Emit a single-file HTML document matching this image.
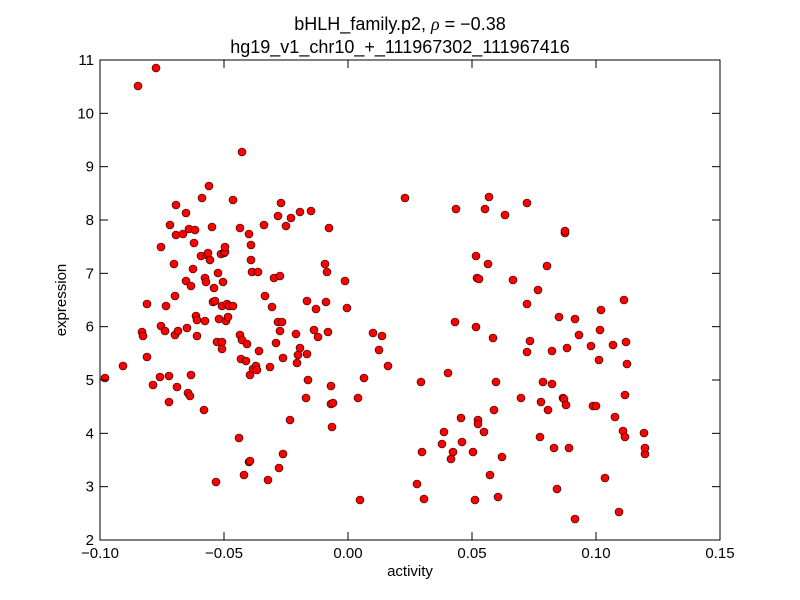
<!DOCTYPE html>
<html><head><style>body{margin:0;background:#fff}svg{display:block}text{font-family:"Liberation Sans","DejaVu Sans",sans-serif;fill:#000}</style></head>
<body>
<svg width="800" height="600" xmlns="http://www.w3.org/2000/svg">
<rect width="800" height="600" fill="#fff"/>
<text x="400" y="30" font-size="18" text-anchor="middle">bHLH_family.p2, <tspan font-family="Liberation Serif" font-style="italic">ρ</tspan> = −0.38</text>
<text x="400" y="53" font-size="18" text-anchor="middle">hg19_v1_chr10_+_111967302_111967416</text>
<g id="pts" fill="#f00" stroke="#000" stroke-width="0.6"></g>
<rect x="100" y="60" width="620" height="480" fill="none" stroke="#000" stroke-width="1"/>
<g id="ticks" stroke="#000" stroke-width="1"></g>
<g id="lbl" font-size="15"></g>
<text x="410" y="576" font-size="15" text-anchor="middle">activity</text>
<text x="66" y="300" font-size="15" text-anchor="middle" transform="rotate(-90 66 300)">expression</text>
<script>
var P=[[105,378],[123,366],[138,86],[156,68],[142,332],[143,336],[147,304],[147,357],[153,385],[160,377],[161,247],[161,326],[165,331],[166,306],[169,376],[169,402],[170,225],[174,264],[175,296],[175,335],[176,205],[176,235],[177,387],[178,331],[183,234],[186,213],[186,281],[187,328],[188,393],[189,229],[190,396],[191,286],[191,375],[193,269],[194,243],[195,230],[196,316],[197,320],[197,336],[201,256],[202,198],[204,410],[205,278],[205,321],[206,282],[207,255],[208,253],[209,186],[210,260],[212,227],[213,302],[214,288],[215,301],[216,482],[217,342],[218,273],[219,319],[221,254],[222,306],[222,342],[222,349],[223,282],[224,253],[225,252],[225,247],[226,321],[227,304],[228,317],[229,306],[233,200],[233,306],[239,438],[240,335],[240,228],[241,359],[242,152],[242,340],[244,475],[246,361],[247,344],[249,234],[249,462],[250,375],[250,461],[251,260],[251,245],[252,272],[253,369],[256,366],[257,370],[258,272],[259,351],[264,225],[265,296],[268,480],[270,367],[272,307],[274,278],[276,343],[278,216],[278,322],[279,468],[280,331],[280,276],[281,203],[282,322],[283,358],[283,454],[286,226],[290,420],[291,218],[296,334],[297,363],[298,355],[300,212],[300,348],[306,398],[307,354],[307,301],[308,380],[311,211],[314,330],[316,309],[318,337],[325,264],[326,302],[327,272],[328,332],[329,228],[331,386],[331,404],[332,427],[333,403],[345,281],[347,308],[358,398],[360,500],[364,378],[373,333],[379,350],[382,336],[388,366],
[405,198],[417,484],[421,382],[422,452],[424,499],[442,444],[444,432],[448,373],[451,459],[453,452],[455,322],[456,209],[461,418],[462,442],[473,452],[475,500],[476,256],[476,327],[477,278],[478,420],[478,424],[479,279],[484,432],[485,209],[488,264],[489,197],[490,475],[493,338],[494,410],[496,382],[498,497],[502,457],[505,215],[513,280],[521,398],[527,203],[527,352],[527,304],[530,341],[538,290],[540,437],[541,402],[543,382],[547,266],[548,410],[552,384],[552,351],[554,448],[557,489],[559,317],[563,398],[564,399],[565,233],[565,231],[566,405],[567,348],[569,448],[575,519],[575,319],[579,335],[591,346],[593,406],[596,406],[599,360],[601,310],[600,330],[605,478],[613,345],[615,417],[619,512],[623,431],[624,300],[625,437],[625,395],[626,342],[627,364],[644,433],[645,454],[645,448]];
var ns="http://www.w3.org/2000/svg",g=document.getElementById("pts"),t=document.getElementById("ticks"),l=document.getElementById("lbl");
P.forEach(function(p){var c=document.createElementNS(ns,"circle");c.setAttribute("cx",p[0]);c.setAttribute("cy",p[1]);c.setAttribute("r",4);g.appendChild(c);});
function ln(a,b,c,d){var e=document.createElementNS(ns,"line");e.setAttribute("x1",a);e.setAttribute("y1",b);e.setAttribute("x2",c);e.setAttribute("y2",d);t.appendChild(e);}
function tx(x,y,s,a){var e=document.createElementNS(ns,"text");e.setAttribute("x",x);e.setAttribute("y",y);e.setAttribute("text-anchor",a);e.textContent=s;l.appendChild(e);}
var xl=["−0.10","−0.05","0.00","0.05","0.10","0.15"];
for(var i=0;i<6;i++){var x=100+124*i;ln(x,540,x,532);ln(x,60,x,68);tx(x,558,xl[i],"middle");}
for(var v=2;v<=11;v++){var y=540-(v-2)*480/9;ln(100,y,108,y);ln(720,y,712,y);tx(94,y+5,String(v),"end");}
</script>
</svg>
</body></html>
